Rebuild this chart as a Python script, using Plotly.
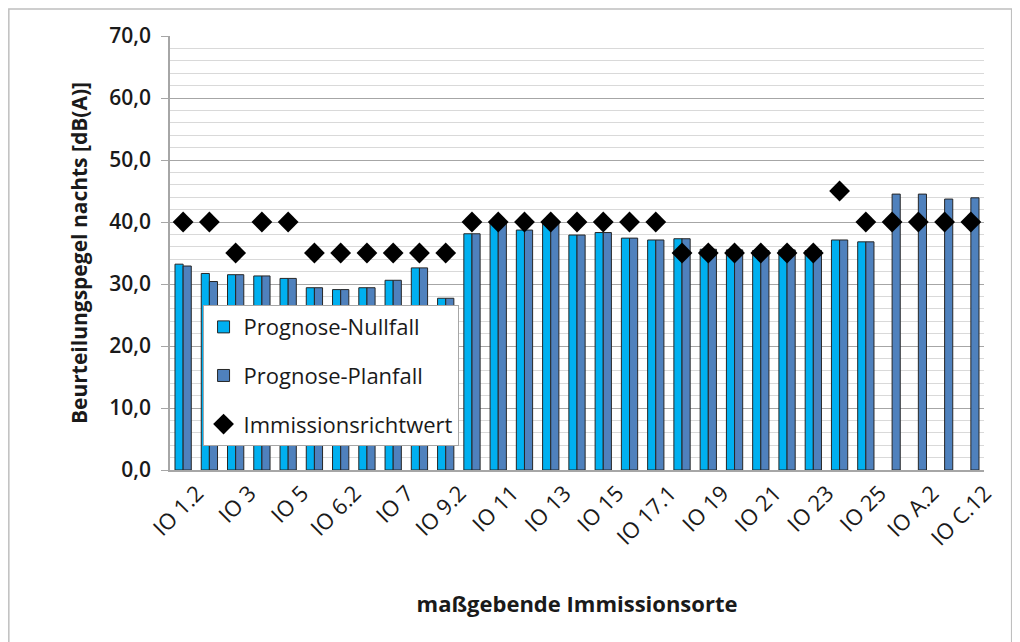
import plotly.graph_objects as go

# Immissionsorte (31), only every second one is labelled on the axis
orte = ['IO 1.2', 'IO 2', 'IO 3', 'IO 4', 'IO 5', 'IO 6.1', 'IO 6.2', 'IO 6.3',
        'IO 7', 'IO 9.1', 'IO 9.2', 'IO 10', 'IO 11', 'IO 12', 'IO 13', 'IO 14',
        'IO 15', 'IO 16', 'IO 17.1', 'IO 18', 'IO 19', 'IO 20', 'IO 21', 'IO 22',
        'IO 23', 'IO 24', 'IO 25', 'IO A.1', 'IO A.2', 'IO C.1', 'IO C.12']
tick_labels = ['IO 1.2', 'IO 3', 'IO 5', 'IO 6.2', 'IO 7', 'IO 9.2', 'IO 11', 'IO 13',
               'IO 15', 'IO 17.1', 'IO 19', 'IO 21', 'IO 23', 'IO 25', 'IO A.2', 'IO C.12']

nullfall = [33.2, 31.7, 31.5, 31.3, 30.9, 29.4, 29.1, 29.4, 30.6, 32.6, 27.7,
            38.1, 39.9, 38.7, 40.1, 37.9, 38.3, 37.4, 37.1, 37.3, 35.6, 35.5,
            35.4, 35.5, 35.4, 37.1, 36.8, None, None, None, None]
planfall = [32.9, 30.4, 31.5, 31.3, 30.9, 29.4, 29.1, 29.4, 30.6, 32.6, 27.7,
            38.1, 39.9, 38.7, 40.1, 37.9, 38.3, 37.4, 37.1, 37.3, 35.6, 35.5,
            35.4, 35.5, 35.4, 37.1, 36.8, 44.5, 44.5, 43.7, 43.9]
richtwert = [40, 40, 35, 40, 40, 35, 35, 35, 35, 35, 35,
             40, 40, 40, 40, 40, 40, 40, 40, 35, 35, 35,
             35, 35, 35, 45, 40, 40, 40, 40, 40]

FONT = 'Open Sans'
outline = dict(color='#262626', width=1)

fig = go.Figure()
fig.add_bar(x=orte, y=nullfall, name='Prognose-Nullfall',
            marker=dict(color='#00B0F0', line=outline), legendgroup='a')
fig.add_bar(x=orte, y=planfall, name='Prognose-Planfall',
            marker=dict(color='#4F81BD', line=outline), legendgroup='b')
fig.add_scatter(x=orte, y=richtwert, mode='markers', name='Immissionsrichtwert',
                marker=dict(symbol='diamond', size=16, color='black'), legendgroup='c')

fig.update_layout(
    width=1020, height=642,
    margin=dict(l=162, r=44, t=28, b=180),
    paper_bgcolor='white', plot_bgcolor='white',
    separators=',.',
    barmode='group', bargap=0.38, bargroupgap=0,
    font=dict(family=FONT, color='#262626'),
    showlegend=True,
    legend=dict(x=0.04, y=0.38, xanchor='left', yanchor='top',
                bgcolor='white', bordercolor='#a6a6a6', borderwidth=1,
                font=dict(size=22, color='#1a1a1a'), tracegroupgap=17,
                traceorder='grouped'),
    shapes=[dict(type='rect', xref='paper', yref='paper',
                 x0=-0.198, x1=1.034, y0=-0.5, y1=1.062,
                 line=dict(color='#bfbfbf', width=1.5))],
)
fig.update_yaxes(
    range=[0, 70], dtick=10, tickformat='.1f',
    showgrid=True, gridcolor='#a6a6a6', gridwidth=1,
    minor=dict(dtick=2, showgrid=True, gridcolor='#d9d9d9', gridwidth=1),
    showline=True, linecolor='#a6a6a6', linewidth=1.5,
    ticks='outside', ticklen=7, tickcolor='#a6a6a6', ticklabelstandoff=6,
    tickfont=dict(size=21, color='#1a1a1a', family=FONT, weight=600),
    title=dict(text='<b>Beurteilungspegel nachts [dB(A)]</b>',
               font=dict(size=21, color='#1a1a1a'), standoff=16),
    zeroline=False,
)
fig.update_xaxes(
    range=[-0.5, len(orte) - 0.5],
    tickmode='array', tickvals=tick_labels, ticktext=tick_labels,
    tickangle=-45, tickfont=dict(size=22, color='#1a1a1a', family=FONT),
    showline=True, linecolor='#a6a6a6', linewidth=1.5,
    ticks='', showgrid=False, ticklabelshift=14,
    title=dict(text='<b>maßgebende Immissionsorte</b>',
               font=dict(size=22, color='#1a1a1a'), standoff=46),
)

fig.write_html("out.html")
